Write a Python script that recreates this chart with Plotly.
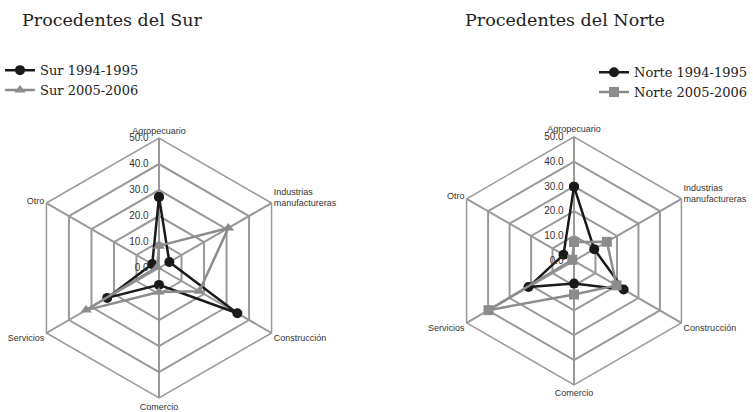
import plotly.graph_objects as go

categories = ["Agropecuario", "Industrias<br>manufactureras", "Construcción",
              "Comercio", "Servicios", "Otro"]

sur_1994 = [27.3, 4.6, 34.8, 6.5, 23.0, 3.0]
sur_2005 = [8.5, 30.8, 17.9, 9.2, 32.4, 0.8]
norte_1994 = [29.9, 9.4, 23.1, 9.2, 21.2, 4.9]
norte_2005 = [7.6, 15.3, 19.8, 13.6, 39.8, 0.8]

BLACK = "#1a1a1a"
GRAY = "#8c8c8c"
GRID = "#999999"


def closed(vals):
    # repeat the first point so the polygon closes
    return list(vals) + [vals[0]]


fig = go.Figure()

series = [
    ("Sur 1994-1995", sur_1994, BLACK, "circle", "polar", "legend"),
    ("Sur 2005-2006", sur_2005, GRAY, "triangle-up", "polar", "legend"),
    ("Norte 1994-1995", norte_1994, BLACK, "circle", "polar2", "legend2"),
    ("Norte 2005-2006", norte_2005, GRAY, "square", "polar2", "legend2"),
]

for name, vals, color, symbol, subplot, legend in series:
    fig.add_trace(
        go.Scatterpolar(
            r=closed(vals),
            theta=closed(categories),
            mode="lines+markers",
            name=name,
            line=dict(color=color, width=2.5),
            marker=dict(color=color, symbol=symbol, size=10),
            subplot=subplot,
            legend=legend,
        )
    )

# trailing no-break spaces push the radial labels left of the spoke
pad = "\u00a0" * 3

polar_style = dict(
    bgcolor="white",
    gridshape="linear",
    radialaxis=dict(
        range=[0, 50],
        dtick=10,
        tickformat=".1f",
        ticksuffix=pad,
        angle=90,
        tickangle=90,
        side="counterclockwise",
        showline=False,
        gridcolor=GRID,
        gridwidth=1.5,
        ticks="",
        tickfont=dict(family="Liberation Sans, Arial", size=10, color="#333333"),
    ),
    angularaxis=dict(
        rotation=90,
        direction="clockwise",
        categoryorder="array",
        categoryarray=categories,
        showline=True,
        linecolor=GRID,
        linewidth=1.5,
        gridcolor=GRID,
        gridwidth=1.5,
        ticks="",
        tickfont=dict(family="Liberation Sans, Arial", size=9, color="#333333"),
    ),
)

serif = "DejaVu Serif, serif"

fig.update_layout(
    width=753,
    height=412,
    margin=dict(l=0, r=0, t=0, b=0),
    paper_bgcolor="white",
    plot_bgcolor="white",
    polar=dict(domain=dict(x=[0.0385, 0.3838], y=[0.034, 0.665]), **polar_style),
    polar2=dict(domain=dict(x=[0.5976, 0.927], y=[0.066, 0.668]), **polar_style),
    legend=dict(
        x=0.0, y=0.866, xanchor="left", yanchor="top",
        font=dict(family=serif, size=13, color="#222222"),
        itemwidth=30, tracegroupgap=0, bgcolor="rgba(0,0,0,0)",
    ),
    legend2=dict(
        x=1.0, y=0.861, xanchor="right", yanchor="top",
        font=dict(family=serif, size=13, color="#222222"),
        itemwidth=30, tracegroupgap=0, bgcolor="rgba(0,0,0,0)",
    ),
    annotations=[
        dict(text="Procedentes del Sur", x=0.150, y=0.951, xref="paper", yref="paper",
             xanchor="center", yanchor="middle", showarrow=False,
             font=dict(family=serif, size=17.5, color="#222222")),
        dict(text="Procedentes del Norte", x=0.750, y=0.951, xref="paper", yref="paper",
             xanchor="center", yanchor="middle", showarrow=False,
             font=dict(family=serif, size=17.5, color="#222222")),
    ],
)

fig.write_html("out.html", config={"displayModeBar": False},
               post_script="document.body.style.margin='0px';")
